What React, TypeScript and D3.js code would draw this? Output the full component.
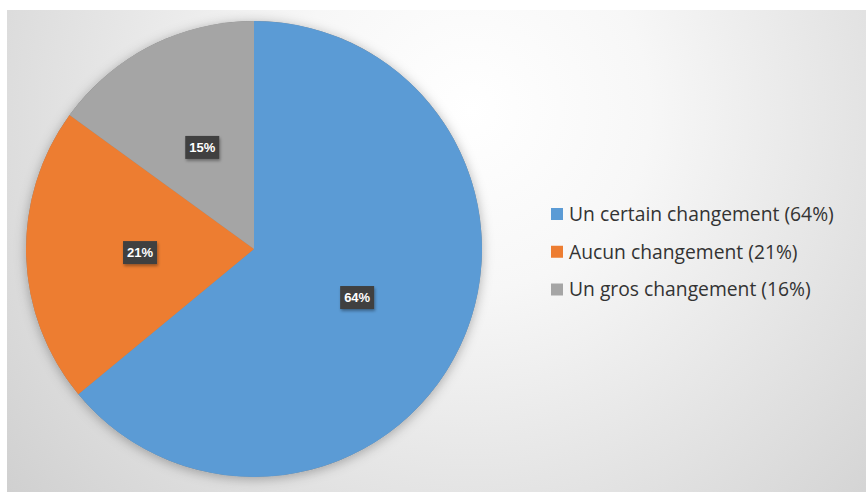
import { useEffect, useRef } from "react";
import * as d3 from "d3";

const categories = ["Un certain changement", "Aucun changement", "Un gros changement"];
const values = [64, 21, 15];
const sliceLabels = ["64%", "21%", "15%"];
const legendLabels = [
  "Un certain changement (64%)",
  "Aucun changement (21%)",
  "Un gros changement (16%)",
];
const colors = ["#5B9BD5", "#ED7D31", "#A5A5A5"];

export default function App() {
  const ref = useRef<SVGSVGElement>(null);

  useEffect(() => {
    if (!ref.current) return;
    const svg = d3.select(ref.current);
    svg.selectAll("*").remove();

    const width = 866;
    const height = 492;

    const defs = svg.append("defs");
    const grad = defs.append("radialGradient")
      .attr("id", "bg")
      .attr("gradientUnits", "userSpaceOnUse")
      .attr("cx", 470).attr("cy", 110).attr("r", 600);
    grad.append("stop").attr("offset", 0).attr("stop-color", "#ffffff");
    grad.append("stop").attr("offset", 0.3).attr("stop-color", "#f7f7f7");
    grad.append("stop").attr("offset", 1).attr("stop-color", "#d0d0d0");

    const shadow = defs.append("filter").attr("id", "pieShadow")
      .attr("x", "-20%").attr("y", "-20%").attr("width", "140%").attr("height", "140%");
    shadow.append("feDropShadow")
      .attr("dx", 0).attr("dy", 2).attr("stdDeviation", 6)
      .attr("flood-color", "#000").attr("flood-opacity", 0.3);

    const boxShadow = defs.append("filter").attr("id", "boxShadow")
      .attr("x", "-30%").attr("y", "-30%").attr("width", "170%").attr("height", "170%");
    boxShadow.append("feDropShadow")
      .attr("dx", 1).attr("dy", 2).attr("stdDeviation", 1.5)
      .attr("flood-color", "#000").attr("flood-opacity", 0.35);

    // background panel
    svg.append("rect").attr("width", width).attr("height", height).attr("fill", "#ffffff");
    svg.append("rect")
      .attr("x", 7).attr("y", 10)
      .attr("width", width - 7).attr("height", height - 10)
      .attr("fill", "url(#bg)");

    const cx = 254;
    const cy = 249;
    const radius = 228;

    const data = categories.map((c, i) => ({ name: c, value: values[i], label: sliceLabels[i], color: colors[i] }));

    const pie = d3.pie<typeof data[number]>().value(d => d.value).sort(null);
    const arc = d3.arc<d3.PieArcDatum<typeof data[number]>>().innerRadius(0).outerRadius(radius);
    const labelArc = d3.arc<d3.PieArcDatum<typeof data[number]>>().innerRadius(radius / 2).outerRadius(radius / 2);
    const arcs = pie(data);

    const g = svg.append("g").attr("transform", `translate(${cx},${cy})`);

    g.append("circle").attr("r", radius).attr("fill", "#888").attr("filter", "url(#pieShadow)");

    g.selectAll("path.slice")
      .data(arcs)
      .enter()
      .append("path")
      .attr("class", "slice")
      .attr("d", arc)
      .attr("fill", d => d.data.color);

    const labels = g.selectAll("g.lbl")
      .data(arcs)
      .enter()
      .append("g")
      .attr("class", "lbl")
      .attr("transform", d => `translate(${labelArc.centroid(d)})`);

    labels.append("rect")
      .attr("x", -17).attr("y", -11.5)
      .attr("width", 34).attr("height", 23)
      .attr("fill", "#404040")
      .attr("filter", "url(#boxShadow)");

    labels.append("text")
      .attr("text-anchor", "middle")
      .attr("dy", "0.36em")
      .attr("fill", "#ffffff")
      .attr("font-family", "'Liberation Sans', Arial, sans-serif")
      .attr("font-size", "13px")
      .attr("font-weight", "bold")
      .text(d => d.data.label);

    // legend
    const legendY = d3.scalePoint<number>().domain(d3.range(legendLabels.length)).range([214, 289.5]);
    const legend = svg.append("g");
    const rows = legend.selectAll("g")
      .data(legendLabels)
      .enter()
      .append("g")
      .attr("transform", (_, i) => `translate(551,${legendY(i)})`);

    rows.append("rect")
      .attr("x", 0).attr("y", -6)
      .attr("width", 12).attr("height", 12)
      .attr("fill", (_, i) => colors[i]);

    rows.append("text")
      .attr("x", 18)
      .attr("dy", "0.36em")
      .attr("fill", "#333333")
      .attr("font-family", "'Open Sans', sans-serif")
      .attr("font-size", "19.3px")
      .text(d => d);
  }, []);

  return (
    <svg
      ref={ref}
      width={866}
      height={492}
      style={{ position: "absolute", left: 0, top: 0, display: "block" }}
    />
  );
}
